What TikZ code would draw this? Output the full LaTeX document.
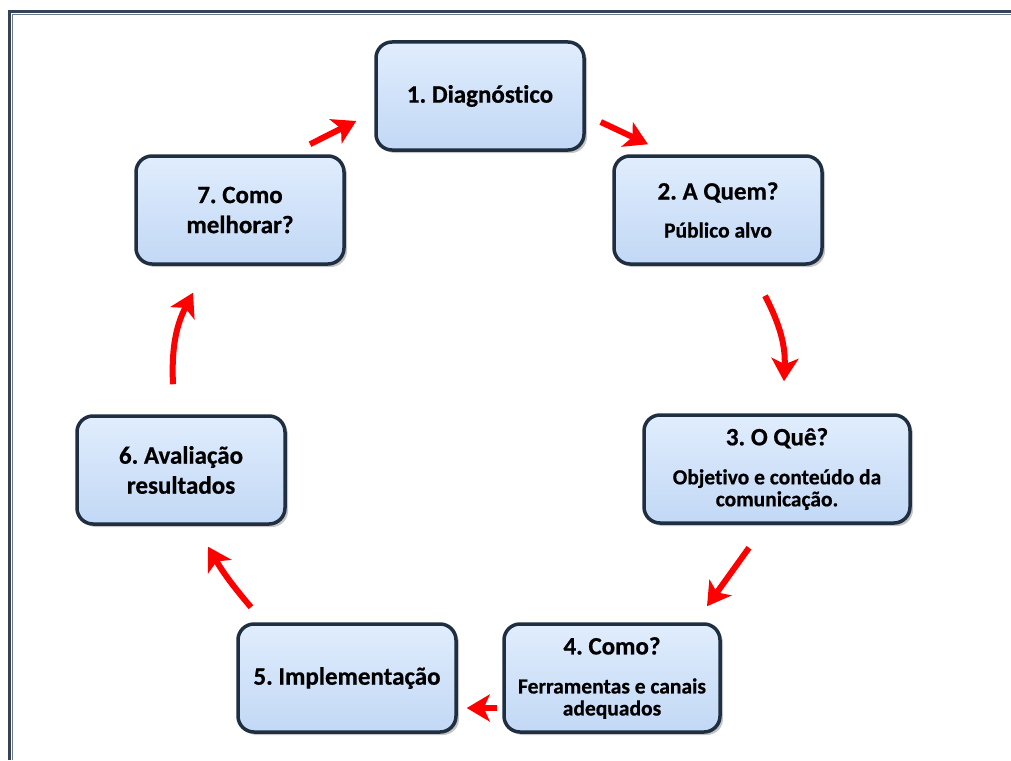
\documentclass[tikz,border=0pt]{standalone}
\usepackage{fontspec}
\setmainfont{Carlito}[Ligatures=NoCommon,BoldFeatures={FakeBold=0.6}]
\usetikzlibrary{arrows.meta,shadows}
\definecolor{boxline}{HTML}{1F2E40}
\definecolor{boxtop}{HTML}{E0EDFD}
\definecolor{boxbot}{HTML}{C2D8F5}
\definecolor{frameA}{HTML}{354356}
\definecolor{frameB}{HTML}{6A7888}
\tikzset{
  >={Stealth[length=23pt,width=27pt,inset=6pt]},
}
\tikzstyle{stage}=[rounded corners=16pt,draw=boxline,line width=3.5pt,
  top color=boxtop,bottom color=boxbot,minimum width=208pt,minimum height=108pt,
  align=center,font=\fontsize{25}{30}\selectfont\bfseries\frenchspacing,
  drop shadow={shadow xshift=3pt,shadow yshift=-3pt,opacity=.45}]
\tikzstyle{flow}=[red,line width=6pt,->]
\newcommand{\subfont}{\fontsize{21.5}{23}\selectfont}

\begin{document}
\begin{tikzpicture}[x=1pt,y=-1pt]
  \useasboundingbox (0,0) rectangle (1011,760);
  % page border
  \draw[frameA,line width=3.6pt] (9.5,760) -- (9.5,11.5) -- (1011,11.5);
  \draw[frameB,line width=1.2pt] (12.7,760) -- (12.7,14.8) -- (1011,14.8);

  \node[stage] (diag) at (480,96) {1. Diagnóstico};
  \node[stage] (quem) at (718,210) {2. A Quem?\\[8pt]\subfont Público alvo};
  \node[stage,minimum width=266pt] (que) at (777,469)
    {3. O Quê?\\[9pt]\subfont Objetivo e conteúdo da\\[-8pt]\subfont comunicação.};
  \node[stage,minimum width=216pt] (como) at (612,678)
    {4. Como?\\[9pt]\subfont Ferramentas e canais\\[-8pt]\subfont adequados};
  \node[stage,minimum width=218pt] (impl) at (347,678) {5. Implementação};
  \node[stage] (aval) at (181,470) {6. Avaliação\\resultados};
  \node[stage] (melh) at (240,210) {7. Como\\melhorar?};

  \draw[flow] ([shift={(15,26)}]diag.east) -- ([shift={(-70,-10)}]quem.north);
  \draw[flow] ([shift={(47,30)}]quem.south) to[bend left=15] ([shift={(7,-32)}]que.north);
  \draw[flow] ([shift={(-28,23)}]que.south) -- ([shift={(95,-16)}]como.north);
  \draw[flow] ([shift={(-5,30)}]como.west) -- ([shift={(9,30)}]impl.east);
  \draw[flow] ([shift={(-96,-15)}]impl.north) to[bend left=5] ([shift={(27,21)}]aval.south);
  \draw[flow] ([shift={(-8,-30)}]aval.north) to[bend left=15] ([shift={(-47,27)}]melh.south);
  \draw[flow] ([shift={(70,-10)}]melh.north) -- ([shift={(-18,25)}]diag.west);
\end{tikzpicture}
\end{document}
